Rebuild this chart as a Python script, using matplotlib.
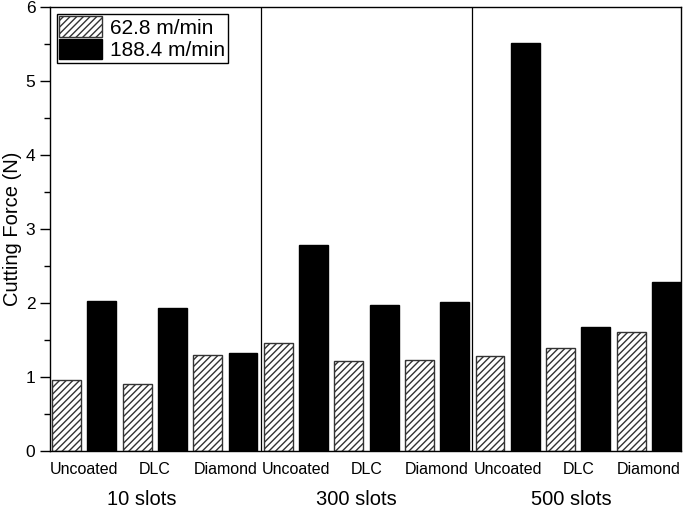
import numpy as np
import matplotlib
matplotlib.use("Agg")
import matplotlib.pyplot as plt
from matplotlib.ticker import MultipleLocator

plt.rcParams["font.family"] = ["Liberation Sans", "DejaVu Sans"]
plt.rcParams["hatch.linewidth"] = 1.0

coatings = ["Uncoated", "DLC", "Diamond"]
slots = ["10 slots", "300 slots", "500 slots"]
speeds = ["62.8 m/min", "188.4 m/min"]

# cutting force (N), order: 10 slots, 300 slots, 500 slots x Uncoated, DLC, Diamond
force_low = [0.96, 0.91, 1.30, 1.46, 1.21, 1.23, 1.28, 1.39, 1.61]
force_high = [2.03, 1.93, 1.32, 2.78, 1.98, 2.02, 5.52, 1.67, 2.29]


def main():
    fig = plt.figure(figsize=(6.85, 5.09), dpi=100)
    ax = fig.add_axes([0.073, 0.114, 0.921, 0.872])

    n = len(force_low)
    pos_low = np.arange(n) * 2
    pos_high = pos_low + 1

    ax.bar(pos_low, force_low, width=0.82, color="white",
           edgecolor="#333333", hatch="/////", linewidth=1.0, label=speeds[0])
    ax.bar(pos_high, force_high, width=0.82, color="black",
           edgecolor="black", linewidth=1.0, label=speeds[1])

    for sep in [5.5, 11.5]:
        ax.axvline(sep, color="black", linewidth=0.9)

    ax.set_xlim(-0.47, 17.41)
    ax.set_ylim(0, 6)
    ax.set_xticks(pos_low + 0.5)
    ax.set_xticklabels(coatings * 3, fontsize=11.5)
    ax.tick_params(axis="x", length=0, pad=8)

    ax.yaxis.set_major_locator(MultipleLocator(1))
    ax.yaxis.set_minor_locator(MultipleLocator(0.5))
    ax.tick_params(axis="y", which="major", length=7, width=1, labelsize=12.5)
    ax.tick_params(axis="y", which="minor", length=4, width=1)
    ax.set_ylabel("Cutting Force (N)", fontsize=14.5, labelpad=3)

    for x, s in zip([2.14, 8.2, 14.3], slots):
        ax.text(x, -0.66, s, ha="center", va="center", fontsize=14.5,
                transform=ax.transData)

    for sp in ax.spines.values():
        sp.set_linewidth(1.0)

    leg = ax.legend(loc="upper left", bbox_to_anchor=(0.011, 0.985),
                    borderaxespad=0, fontsize=15, handlelength=2.05,
                    handleheight=1.15, handletextpad=0.4, labelspacing=0.05,
                    borderpad=0.12, fancybox=False, framealpha=1)
    leg.get_frame().set_edgecolor("black")
    leg.get_frame().set_linewidth(1.0)

    fig.savefig("out.png", dpi=100)


if __name__ == "__main__":
    main()
